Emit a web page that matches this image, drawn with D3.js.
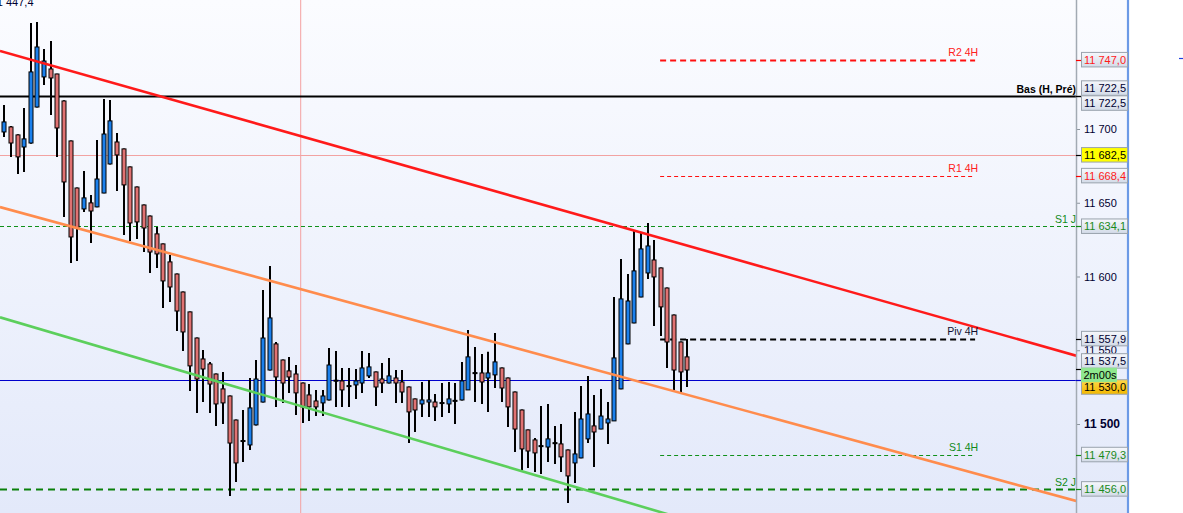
<!DOCTYPE html>
<html><head><meta charset="utf-8">
<script src="https://cdn.jsdelivr.net/npm/d3@7"></script>
<style>body{margin:0;background:#fff;overflow:hidden}svg{display:block}</style>
</head><body>
<script>
// ---- DATA ----
const openP=[11698,11701.4,11696,11687.8,11690.5,11714.9,11735.3,11740.7,11737.3,11719,11691.9,11660,11645.8,11649.9,11647.2,11656.6,11676.3,11691.2,11686.5,11674.3,11660.7,11648.5,11641,11628.9,11622.1,11609.9,11601.7,11589.5,11576,11558.3,11544.1,11540.7,11533.9,11523.8,11519,11502.7,11488.5,11485.8,11499.4,11514.9,11536.6,11554.3,11543.4,11536,11533.9,11527.8,11519.7,11515.6,11514.3,11516.3,11529.5,11529.2,11525.8,11526.5,11527.8,11532.6,11535.3,11530.5,11527.8,11531.2,11528.5,11525.1,11517,11513.6,11514.9,11514.9,11514.3,11513.6,11515.6,11516.3,11523.1,11534.6,11534.6,11531.2,11533.3,11538,11531.2,11521.7,11509.5,11496,11489.2,11485.1,11484.4,11487.1,11486.5,11482.4,11473.6,11477,11489.9,11498.7,11496.6,11500.7,11502.1,11523.8,11554.3,11568.5,11586.1,11602.4,11611.2,11605.8,11592.2,11573.9,11555.6,11545.5];
const highP=[11716.3,11702,11696.5,11714.3,11771.9,11772.6,11754.3,11759.7,11737.5,11719.5,11692.2,11660.3,11671.6,11655.3,11692.6,11720.4,11719.7,11697.3,11686.8,11674.6,11661,11648.8,11641.3,11633.6,11622.4,11614.6,11602,11589.8,11576.3,11558.6,11550.2,11542.1,11534.2,11535.3,11519.3,11503,11509.5,11531.2,11543.4,11590.9,11607.1,11555.6,11543.7,11545.5,11540,11528.1,11527.1,11523.1,11523.1,11551.6,11549.5,11538,11538,11537.3,11549.5,11548.2,11535.6,11541.4,11544.8,11536.6,11536.6,11525.4,11517.3,11528.5,11529.9,11520.4,11527.8,11528.5,11527.8,11542.1,11563.8,11552.2,11547.5,11548.9,11561.7,11538.3,11531.5,11522,11509.8,11496.3,11490.5,11512.2,11513.6,11498.7,11500,11482.7,11508.2,11525.8,11532.6,11519.7,11523.8,11514.9,11586.1,11611.9,11601.7,11631.5,11629.5,11636.3,11624.8,11606.1,11592.5,11574.2,11555.9,11557.6];
const lowP=[11694.6,11681.1,11669.5,11670.9,11690,11714.5,11729.9,11709.5,11681.1,11640.4,11609.2,11610.5,11643.8,11622.7,11647,11656.4,11676,11658,11628.2,11624.1,11625.5,11616.6,11602.4,11605.8,11578.7,11582.7,11563.1,11549.5,11522.4,11507.5,11514.9,11507.5,11498.7,11500,11451.2,11460.7,11474.3,11482.4,11499,11514.5,11536.3,11511.6,11514.3,11521.1,11506.1,11500.7,11502.1,11505.4,11505.4,11516,11511.6,11511.6,11511.6,11517,11521.1,11531.2,11512.2,11521.1,11527.5,11514.3,11514.3,11487.1,11494.6,11504.8,11504.8,11502.1,11504.8,11507.5,11500,11516,11523,11514.9,11513.6,11508.2,11524.4,11514.9,11498,11481,11468.8,11470.2,11467.5,11466.1,11474.3,11472.9,11467.5,11446.5,11460,11476.8,11487.1,11470.9,11496.4,11486.5,11502,11523.6,11554,11568.3,11586,11598.3,11566.5,11559.7,11538,11523.1,11520.4,11525.1];
const closeP=[11704.8,11690.5,11681.1,11693.3,11738.7,11755.6,11746.1,11734.6,11700.7,11664.1,11626.8,11632.9,11653.3,11644.4,11666.1,11696.6,11705.5,11682.4,11662.1,11636.3,11637,11632.9,11616.6,11615.3,11597,11592.9,11576.6,11562.4,11539.4,11530.5,11537.3,11527.1,11513.6,11514.3,11487.1,11473.6,11488.4,11510.9,11530.5,11558.3,11571.9,11531.9,11527.8,11531.9,11521.1,11511.6,11511.6,11511.6,11519,11540,11529.2,11523.1,11525.6,11529.2,11538,11538.7,11525.1,11527.8,11532.6,11527.8,11521.7,11508.2,11509.5,11516.3,11516.3,11511.6,11514.1,11517,11515.8,11529.2,11545.5,11534.4,11528.5,11534.6,11542.1,11524.4,11511.6,11496.6,11483.1,11481.7,11480.4,11484.9,11489.9,11486.9,11477.7,11464.8,11479.7,11503.4,11506.8,11494.6,11505.4,11503.4,11544.8,11584.8,11583.4,11603.8,11618.7,11620.7,11599.7,11579.4,11555.6,11536.6,11535.3,11536.6];

const tickValues=[11500,11550,11600,11650,11700];

// trendlines: [index, price] endpoints
const trendNames=["resistance","channelMid","channelLow"];
const trendStart=[[-0.65,11752.9],[-0.65,11647.1],[-0.65,11572.3]];
const trendEnd=[[161.64,11546.3],[161.64,11447.8],[161.64,11357.2]];

// full-width levels
const levelNames=["Bas (H, Pré)","","S1 J","","S2 J"];
const levelValues=[11722.5,11682.5,11634.1,11530.0,11456.0];

// 4H pivot levels (index range)
const pivNames=["R2 4H","R1 4H","Piv 4H","S1 4H"];
const pivValues=[11747.0,11668.4,11557.9,11479.3];
const pivRange=[98.9,146.4];

// price tag labels
const tagValues=[11747.0,11722.5,11722.5,11682.5,11668.4,11634.1,11557.9,11537.5,11530.0,11479.3,11456.0];
const cursorIndex=44.7;
const timerText="2m00s";
const topText="11 447,4";

// ---- CHART ----
const W=1183,H=513, plotRight=1076, axisRight=1128;
const svg=d3.select("body").append("svg").attr("width",W).attr("height",H);
const defs=svg.append("defs");
const bg=defs.append("linearGradient").attr("id","bg").attr("x1",0).attr("y1",0).attr("x2",0).attr("y2",1);
bg.append("stop").attr("offset","0%").attr("stop-color","#fbfcff");
bg.append("stop").attr("offset","100%").attr("stop-color","#e3e9fa");
const tagG=defs.append("linearGradient").attr("id","tag").attr("x1",0).attr("y1",0).attr("x2",0).attr("y2",1);
tagG.append("stop").attr("offset","0%").attr("stop-color","#f6f8fc");
tagG.append("stop").attr("offset","100%").attr("stop-color","#d3dbe8");
const goldG=defs.append("linearGradient").attr("id","gold").attr("x1",0).attr("y1",0).attr("x2",0).attr("y2",1);
goldG.append("stop").attr("offset","0%").attr("stop-color","#ffd84a");
goldG.append("stop").attr("offset","100%").attr("stop-color","#f2b800");
defs.append("clipPath").attr("id","plotClip").append("rect").attr("x",0).attr("y",0).attr("width",plotRight).attr("height",H);

svg.append("rect").attr("x",0).attr("y",0).attr("width",axisRight).attr("height",H).attr("fill","url(#bg)");

const y=d3.scaleLinear().domain([11500,11700]).range([424,129]);
const x=d3.scaleLinear().domain([0,103]).range([4.3,687.3]);

const plot=svg.append("g").attr("clip-path","url(#plotClip)");

// cursor vertical
plot.append("line").attr("x1",x(cursorIndex)).attr("x2",x(cursorIndex)).attr("y1",0).attr("y2",H)
  .attr("stroke","#f4a0a0").attr("stroke-width",1);

// full-width levels
const levelStyle=[
  {stroke:"#000",w:2,dash:null},
  {stroke:"#f2a2a2",w:1,dash:null},
  {stroke:"#10901a",w:1,dash:"4,3"},
  {stroke:"#0000cc",w:1.2,dash:null},
  {stroke:"#0a800a",w:2.2,dash:"7,5"}
];
levelValues.forEach((v,i)=>{
  const s=levelStyle[i];
  plot.append("line").attr("x1",0).attr("x2",plotRight).attr("y1",Math.round(y(v))+0.5).attr("y2",Math.round(y(v))+0.5)
    .attr("stroke",s.stroke).attr("stroke-width",s.w).attr("stroke-dasharray",s.dash);
});
const levelLabelStyle=[{fill:"#000",bold:true},null,{fill:"#108a18"},null,{fill:"#108a18"}];
levelNames.forEach((n,i)=>{
  if(!n) return;
  const s=levelLabelStyle[i];
  svg.append("text").attr("x",plotRight).attr("y",y(levelValues[i])-3.3).attr("text-anchor","end")
    .attr("font-family","Liberation Sans, Arial, sans-serif").attr("font-size",s.bold?10.5:10.5)
    .attr("font-weight",s.bold?"bold":"normal").attr("fill",s.fill).text(n);
});

// pivot 4H levels
const pivStyle=[
  {stroke:"#ff1010",w:2,dash:"6,4",fill:"#ff2020"},
  {stroke:"#ff1010",w:1,dash:"4,3",fill:"#ff2020"},
  {stroke:"#000",w:2,dash:"6,4",fill:"#101030"},
  {stroke:"#10901a",w:1,dash:"4,3",fill:"#108a18"}
];
pivValues.forEach((v,i)=>{
  const s=pivStyle[i];
  plot.append("line").attr("x1",x(pivRange[0])).attr("x2",x(pivRange[1])).attr("y1",Math.round(y(v))+0.5).attr("y2",Math.round(y(v))+0.5)
    .attr("stroke",s.stroke).attr("stroke-width",s.w).attr("stroke-dasharray",s.dash);
  svg.append("text").attr("x",x(pivRange[1])+3).attr("y",y(v)-3.8).attr("text-anchor","end")
    .attr("font-family","Liberation Sans, Arial, sans-serif").attr("font-size",10.5)
    .attr("fill",s.fill).text(pivNames[i]);
});

// candles
const candles=d3.range(openP.length).map(i=>({i,o:openP[i],h:highP[i],l:lowP[i],c:closeP[i]}));
const cg=plot.append("g");
cg.selectAll("line.wick").data(candles).join("line").attr("class","wick")
  .attr("x1",d=>Math.round(x(d.i))).attr("x2",d=>Math.round(x(d.i)))
  .attr("y1",d=>y(d.h)).attr("y2",d=>y(d.l)).attr("stroke","#000").attr("stroke-width",2);
cg.selectAll("rect.body").data(candles).join("rect").attr("class","body")
  .attr("x",d=>Math.round(x(d.i))-2)
  .attr("y",d=>{const t=y(Math.max(d.o,d.c));const b=y(Math.min(d.o,d.c));return (b-t)<1?(t+b)/2-0.5:t;})
  .attr("width",4)
  .attr("height",d=>Math.max(1,y(Math.min(d.o,d.c))-y(Math.max(d.o,d.c))))
  .attr("fill",d=>Math.abs(d.c-d.o)<0.5?"#000":(d.c>d.o?"#1b80ec":"#e07272"))
  .attr("stroke","#000").attr("stroke-width",1);

// trendlines
const trendColors=["#ff1a1a","#ff8c4d","#5ccf5c"];
trendNames.forEach((n,i)=>{
  plot.append("line").attr("x1",x(trendStart[i][0])).attr("y1",y(trendStart[i][1]))
    .attr("x2",x(trendEnd[i][0])).attr("y2",y(trendEnd[i][1]))
    .attr("stroke",trendColors[i]).attr("stroke-width",2.6);
});

// axis
const loc=d3.formatLocale({decimal:",",thousands:"\u00a0",grouping:[3],currency:["",""]});
const fInt=loc.format(",d"), f1=loc.format(",.1f");
const axisG=svg.append("g").attr("transform",`translate(${plotRight},0)`)
  .call(d3.axisRight(y).tickValues(tickValues).tickSize(4).tickPadding(4).tickFormat(fInt));
axisG.select(".domain").remove();
axisG.selectAll(".tick line").attr("stroke","#8c959e");
axisG.selectAll(".tick text").attr("font-family","Liberation Sans, Arial, sans-serif").attr("font-size",11)
  .attr("fill","#000030").attr("font-weight",d=>d===11500?"bold":"normal").attr("font-size",d=>d===11500?12:11);
svg.append("line").attr("x1",plotRight+0.5).attr("x2",plotRight+0.5).attr("y1",0).attr("y2",H).attr("stroke","#a2aab3").attr("stroke-width",1.5);
svg.append("line").attr("x1",axisRight).attr("x2",axisRight).attr("y1",0).attr("y2",H).attr("stroke","#6c9ae6").attr("stroke-width",2.2);

// tags
const tagStyle=[
  {fg:"#ff1a1a",bg:"url(#tag)",tick:"#ff0000",pos:"c"},
  {fg:"#000030",bg:"url(#tag)",tick:"#000",pos:"a"},
  {fg:"#000030",bg:"url(#tag)",tick:"#000",pos:"b"},
  {fg:"#000",bg:"#ffff00",tick:"#000",pos:"c"},
  {fg:"#ff1a1a",bg:"url(#tag)",tick:"#ff0000",pos:"c"},
  {fg:"#1a8a1a",bg:"url(#tag)",tick:"#108a10",pos:"c"},
  {fg:"#000030",bg:"url(#tag)",tick:"#000",pos:"c"},
  {fg:"#000030",bg:"url(#tag)",tick:"#000",pos:"a"},
  {fg:"#000",bg:"url(#gold)",tick:"#0000cc",pos:"b"},
  {fg:"#1a8a1a",bg:"url(#tag)",tick:"#108a10",pos:"c"},
  {fg:"#1a8a1a",bg:"url(#tag)",tick:"#108a10",pos:"c"}
];
const tagH=14.5, tagX=plotRight+5, tagW=46;
tagValues.forEach((v,i)=>{
  const s=tagStyle[i]; const yy=y(v);
  svg.append("line").attr("x1",plotRight).attr("x2",plotRight+5).attr("y1",Math.round(yy)+0.5).attr("y2",Math.round(yy)+0.5).attr("stroke",s.tick).attr("stroke-width",1.2);
  let top = s.pos==="c"? yy-tagH/2 : (s.pos==="a"? yy-tagH-0.5 : yy);
  svg.append("rect").attr("x",tagX+0.5).attr("y",top).attr("width",tagW).attr("height",tagH)
    .attr("fill",s.bg).attr("stroke","#9aa3ad").attr("stroke-width",1);
  svg.append("text").attr("x",tagX+3).attr("y",top+tagH/2+4).attr("font-family","Liberation Sans, Arial, sans-serif")
    .attr("font-size",11).attr("fill",s.fg).text(f1(v));
});
// timer box
const lastTop=y(11537.5)-0.5;
svg.append("rect").attr("x",tagX+0.5).attr("y",lastTop).attr("width",35).attr("height",13.5)
  .attr("fill","#8fe88f").attr("stroke","#8fe88f");
svg.append("text").attr("x",tagX+2.5).attr("y",lastTop+10.8).attr("font-family","Liberation Sans, Arial, sans-serif")
  .attr("font-size",11).attr("fill","#000").text(timerText);

// top-left clipped text
svg.append("text").attr("x",-8.5).attr("y",6).attr("font-family","Liberation Sans, Arial, sans-serif")
  .attr("font-size",11).attr("fill","#000030").text(topText);
// small marker at far right
svg.append("line").attr("x1",1179).attr("x2",1183).attr("y1",58.5).attr("y2",58.5).attr("stroke","#2040e0").attr("stroke-width",1.2);
</script>
</body></html>
